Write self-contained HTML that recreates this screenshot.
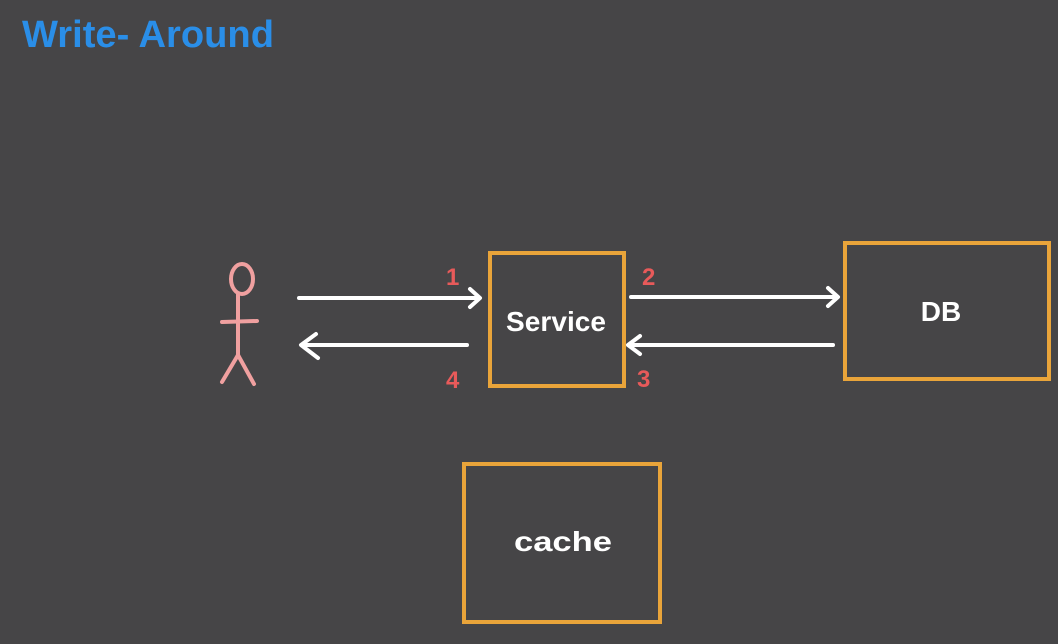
<!DOCTYPE html>
<html><head><style>body{margin:0;background:#464547;}svg{display:block}</style></head>
<body>
<svg width="1058" height="644" viewBox="0 0 1058 644" xmlns="http://www.w3.org/2000/svg">
<rect width="1058" height="644" fill="#464547"/>
<text x="22" y="47" font-family="Liberation Sans, sans-serif" font-size="38" fill="#2a8ee8" font-weight="bold" textLength="252" lengthAdjust="spacingAndGlyphs">Write- Around</text>
<g fill="none" stroke="#e9a43a" stroke-width="4">
<rect x="490" y="253" width="134" height="133"/>
<rect x="845" y="243" width="204" height="136"/>
<rect x="464" y="464" width="196" height="158"/>
</g>
<g fill="none" stroke="#ffffff" stroke-width="4" stroke-linecap="round" stroke-linejoin="round">
<line x1="299" y1="298" x2="478" y2="298"/><polyline points="470,289 480,298 470,307"/>
<line x1="467" y1="345" x2="302" y2="345"/><polyline points="316,334 301,345 318,358"/>
<line x1="631" y1="297" x2="836" y2="297"/><polyline points="828,288 838,297 828,306"/>
<line x1="833" y1="345" x2="630" y2="345"/><polyline points="640,336 628,345 640,354"/>
</g>
<g fill="none" stroke="#f0a0a0" stroke-width="4" stroke-linecap="round">
<ellipse cx="242" cy="279" rx="11" ry="15"/>
<line x1="238" y1="294" x2="238" y2="357"/>
<line x1="222" y1="322" x2="257" y2="321"/>
<line x1="238" y1="355" x2="222" y2="382"/>
<line x1="238" y1="355" x2="254" y2="384"/>
</g>
<g font-family="Liberation Sans, sans-serif" font-size="24" font-weight="bold" fill="#e85a5a">
<text x="446" y="285">1</text><text x="642" y="285">2</text>
<text x="637" y="387">3</text><text x="446" y="388">4</text>
</g>
<g font-family="Liberation Sans, sans-serif" font-size="28" fill="#ffffff" font-weight="bold" text-anchor="middle">
<text x="556" y="331" textLength="100">Service</text>
<text x="941" y="321">DB</text>
<text x="563" y="551" textLength="98" lengthAdjust="spacingAndGlyphs">cache</text>
</g>
</svg>
</body></html>
